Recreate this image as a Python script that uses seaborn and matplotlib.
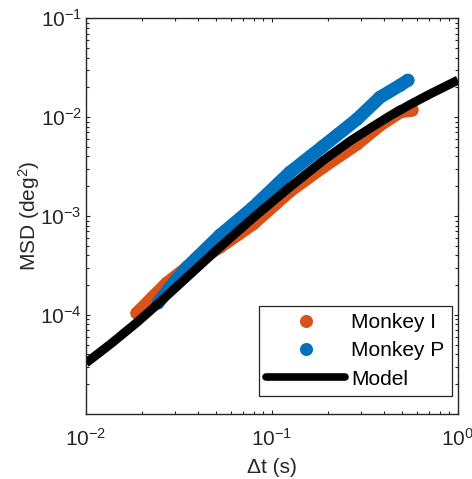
import numpy as np
import pandas as pd
import matplotlib
matplotlib.use("Agg")
import matplotlib.pyplot as plt
import seaborn as sns
from matplotlib.lines import Line2D
from matplotlib.ticker import LogLocator, LogFormatterSciNotation, NullFormatter, FixedLocator

# ---- data ----
monkey_i_dt = [0.0188, 0.0229, 0.0272, 0.0362, 0.0525, 0.0790, 0.125, 0.188, 0.286, 0.381, 0.488, 0.566]
monkey_i_msd = [1.04e-4, 1.51e-4, 2.09e-4, 3.17e-4, 4.85e-4, 8.30e-4, 1.79e-3, 3.13e-3, 5.35e-3, 8.32e-3, 1.13e-2, 1.18e-2]
monkey_p_dt = [0.0244, 0.0283, 0.0349, 0.0525, 0.0790, 0.125, 0.188, 0.286, 0.381, 0.488, 0.538]
monkey_p_msd = [1.32e-4, 1.90e-4, 3.03e-4, 6.38e-4, 1.22e-3, 2.77e-3, 5.07e-3, 9.51e-3, 1.59e-2, 2.10e-2, 2.36e-2]
model_dt = [0.0100, 0.0137, 0.0188, 0.0231, 0.0283, 0.0385, 0.0525, 0.0790, 0.125, 0.188,
            0.262, 0.337, 0.431, 0.552, 0.706, 1.000]
model_msd = [3.26e-5, 5.15e-5, 8.39e-5, 1.18e-4, 1.67e-4, 2.84e-4, 4.85e-4, 9.55e-4, 1.97e-3, 3.63e-3,
             5.70e-3, 7.73e-3, 1.03e-2, 1.34e-2, 1.71e-2, 2.37e-2]

series_labels = ["Monkey I", "Monkey P", "Model"]
x_label = "\u0394t (s)"
y_label = "MSD (deg$^2$)"
y_tick_values = [1e-4, 1e-3, 1e-2, 1e-1]
x_tick_values = [1e-2, 1e-1, 1e0]

c_i = "#D95319"
c_p = "#0072BD"
c_model = "#000000"
axc = "#262626"

sns.set_theme(style="ticks")
plt.rcParams["font.family"] = ["Liberation Sans", "DejaVu Sans"]
plt.rcParams["mathtext.fontset"] = "custom"
plt.rcParams["mathtext.rm"] = "Liberation Sans"
plt.rcParams["mathtext.it"] = "Liberation Sans:italic"
plt.rcParams["mathtext.default"] = "regular"

df_i = pd.DataFrame({"dt": monkey_i_dt, "msd": monkey_i_msd})
df_p = pd.DataFrame({"dt": monkey_p_dt, "msd": monkey_p_msd})
df_m = pd.DataFrame({"dt": model_dt, "msd": model_msd})

fig = plt.figure(figsize=(4.72, 4.79), dpi=100)
ax = fig.add_axes([0.1822, 0.1363, 0.7881, 0.8255])
ax.set_xscale("log")
ax.set_yscale("log")

band_lw = 9.4
ms = 9.4 ** 2
for df, col in [(df_i, c_i), (df_p, c_p)]:
    sns.lineplot(data=df, x="dt", y="msd", ax=ax, color=col, lw=band_lw,
                 sort=False, estimator=None, solid_capstyle="round",
                 solid_joinstyle="round", legend=False)
    sns.scatterplot(data=df, x="dt", y="msd", ax=ax, color=col, s=ms,
                    edgecolor="none", linewidth=0, legend=False)

sns.lineplot(data=df_m, x="dt", y="msd", ax=ax, color=c_model, lw=6.5,
             sort=False, estimator=None, solid_capstyle="butt",
             solid_joinstyle="round", legend=False)

ax.set_xlim(1e-2, 1e0)
ax.set_ylim(1e-5, 1e-1)

ax.xaxis.set_major_locator(FixedLocator(x_tick_values))
ax.yaxis.set_major_locator(FixedLocator(y_tick_values))
ax.xaxis.set_minor_locator(LogLocator(base=10, subs=np.arange(2, 10), numticks=20))
ax.yaxis.set_minor_locator(LogLocator(base=10, subs=np.arange(2, 10), numticks=20))
ax.xaxis.set_major_formatter(LogFormatterSciNotation())
ax.yaxis.set_major_formatter(LogFormatterSciNotation())
ax.xaxis.set_minor_formatter(NullFormatter())
ax.yaxis.set_minor_formatter(NullFormatter())

for s in ax.spines.values():
    s.set_visible(True)
    s.set_color(axc)
    s.set_linewidth(1.0)
ax.tick_params(which="both", direction="in", top=True, right=True,
               colors=axc, width=0.8, labelsize=15, labelcolor=axc)
ax.tick_params(which="major", length=3.0)
ax.tick_params(which="minor", length=2.5)
ax.tick_params(axis="x", which="major", pad=10)
ax.tick_params(axis="y", which="major", pad=3)

ax.set_xlabel(x_label, fontsize=15, color=axc)
ax.set_ylabel(y_label, fontsize=15, color=axc)
ax.xaxis.set_label_coords(0.5, -0.112)
ax.yaxis.set_label_coords(-0.118, 0.5)

handles = [
    Line2D([], [], ls="none", marker="o", markersize=9.4, color=c_i, markeredgewidth=0),
    Line2D([], [], ls="none", marker="o", markersize=9.4, color=c_p, markeredgewidth=0),
    Line2D([], [], color=c_model, lw=5.5),
]
leg = ax.legend(handles, series_labels, loc="lower right", bbox_to_anchor=(0.984, 0.0448),
                fontsize=15, frameon=True, fancybox=False, framealpha=1, edgecolor=axc,
                handlelength=3.8, handletextpad=0.3, labelspacing=0.45,
                borderpad=0.35, borderaxespad=0.0)
leg.get_frame().set_linewidth(0.9)
for t in leg.get_texts():
    t.set_color("#000000")

fig.savefig("out.png", dpi=100)
